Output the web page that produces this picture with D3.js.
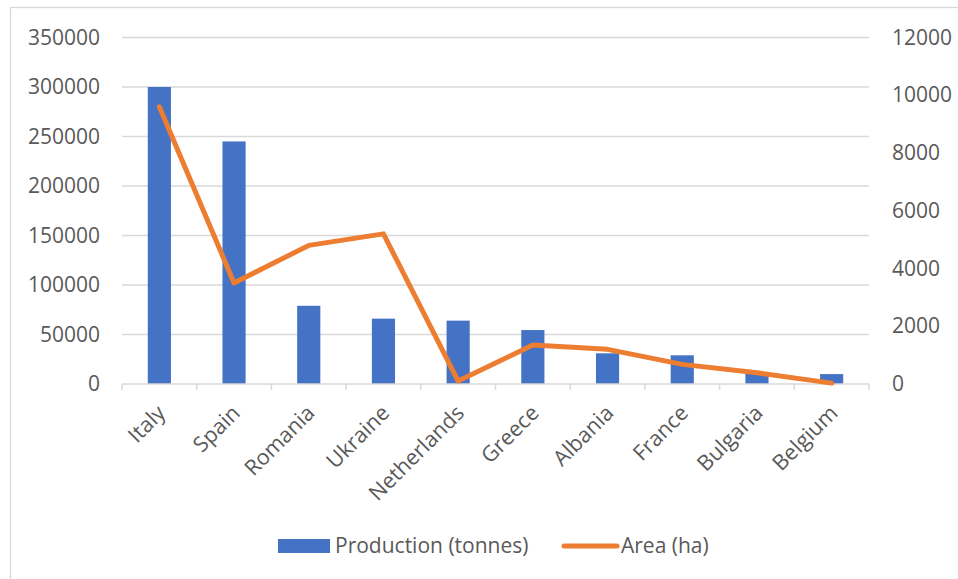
<!DOCTYPE html>
<html>
<head>
<meta charset="utf-8">
<script src="https://cdn.jsdelivr.net/npm/d3@7"></script>
<style>
  html, body { margin: 0; padding: 0; background: #fff; }
  svg { display: block; font-family: "Open Sans", sans-serif; }
</style>
</head>
<body>
<svg id="chart" width="958" height="579"></svg>
<script>
// Top producers: production (tonnes) on the left axis, cultivated area (ha) on the right axis
const countries = ["Italy", "Spain", "Romania", "Ukraine", "Netherlands", "Greece", "Albania", "France", "Bulgaria", "Belgium"];
const production = [300000, 245000, 79000, 66000, 64000, 54500, 31000, 29000, 11000, 10000];
const area = [9600, 3500, 4800, 5200, 100, 1350, 1200, 680, 390, 30];
const leftTicks = [0, 50000, 100000, 150000, 200000, 250000, 300000, 350000];
const rightTicks = [0, 2000, 4000, 6000, 8000, 10000, 12000];

const W = 958, H = 579;
const plot = { left: 122, right: 869, top: 37.5, bottom: 384 };
const textColor = "#595959";
const gridColor = "#d9d9d9";
const barColor = "#4472C4";
const lineColor = "#ED7D31";

const svg = d3.select("#chart");

// chart frame
svg.append("rect")
  .attr("x", 10.5).attr("y", 7.5)
  .attr("width", W).attr("height", H)
  .attr("fill", "#fff").attr("stroke", gridColor).attr("stroke-width", 1.3);

const x = d3.scaleBand().domain(countries).range([plot.left, plot.right]).padding(0);
const yL = d3.scaleLinear().domain([0, 350000]).range([plot.bottom, plot.top]);
const yR = d3.scaleLinear().domain([0, 12000]).range([plot.bottom, plot.top]);

// gridlines
svg.append("g").selectAll("line")
  .data(leftTicks.filter(d => d > 0))
  .join("line")
  .attr("x1", plot.left).attr("x2", plot.right)
  .attr("y1", d => yL(d)).attr("y2", d => yL(d))
  .attr("stroke", gridColor).attr("stroke-width", 1.3);

// left axis labels
const leftAxis = d3.axisLeft(yL).tickValues(leftTicks).tickSize(0).tickPadding(0).tickFormat(d3.format("d"));
const gL = svg.append("g").attr("transform", `translate(${plot.left - 22},0)`).call(leftAxis);
gL.select(".domain").remove();
gL.selectAll("text").attr("fill", textColor).attr("font-size", 21).attr("font-family", "Open Sans");

// right axis labels
const rightAxis = d3.axisRight(yR).tickValues(rightTicks).tickSize(0).tickPadding(0).tickFormat(d3.format("d"));
const gR = svg.append("g").attr("transform", `translate(${plot.right + 23},0)`).call(rightAxis);
gR.select(".domain").remove();
gR.selectAll("text").attr("fill", textColor).attr("font-size", 21).attr("font-family", "Open Sans");

// bars
const barW = x.bandwidth() * 0.31;
svg.append("g").selectAll("rect")
  .data(countries)
  .join("rect")
  .attr("x", d => x(d) + x.bandwidth() / 2 - barW / 2)
  .attr("width", barW)
  .attr("y", (d, i) => yL(production[i]))
  .attr("height", (d, i) => yL(0) - yL(production[i]))
  .attr("fill", barColor);

// category axis with tick marks at band edges
const gX = svg.append("g").attr("transform", `translate(0,${plot.bottom})`);
gX.append("line")
  .attr("x1", plot.left).attr("x2", plot.right)
  .attr("stroke", gridColor).attr("stroke-width", 1.5);
const edges = countries.map(d => x(d)).concat([plot.right]);
gX.selectAll("line.tick")
  .data(edges)
  .join("line")
  .attr("class", "tick")
  .attr("x1", d => d).attr("x2", d => d)
  .attr("y1", 0).attr("y2", 6)
  .attr("stroke", gridColor).attr("stroke-width", 1.5);
gX.selectAll("text")
  .data(countries)
  .join("text")
  .attr("transform", d => `translate(${x(d) + x.bandwidth() / 2 + 2},${25}) rotate(-45)`)
  .attr("text-anchor", "end")
  .attr("dy", "0.35em")
  .attr("fill", textColor)
  .attr("font-size", 21.5)
  .text(d => d);

// area line
const line = d3.line()
  .x(d => x(d) + x.bandwidth() / 2)
  .y((d, i) => yR(area[i]));
svg.append("path")
  .datum(countries)
  .attr("d", line)
  .attr("fill", "none")
  .attr("stroke", lineColor)
  .attr("stroke-width", 5)
  .attr("stroke-linejoin", "round")
  .attr("stroke-linecap", "round");

// legend
const lg = svg.append("g");
lg.append("rect").attr("x", 278).attr("y", 539).attr("width", 52).attr("height", 14).attr("fill", barColor);
lg.append("text").attr("x", 335).attr("y", 546).attr("dy", "0.35em")
  .attr("fill", textColor).attr("font-size", 21).text("Production (tonnes)");
lg.append("line").attr("x1", 564).attr("x2", 617).attr("y1", 546).attr("y2", 546)
  .attr("stroke", lineColor).attr("stroke-width", 5).attr("stroke-linecap", "round");
lg.append("text").attr("x", 621).attr("y", 546).attr("dy", "0.35em")
  .attr("fill", textColor).attr("font-size", 21).text("Area (ha)");
</script>
</body>
</html>
